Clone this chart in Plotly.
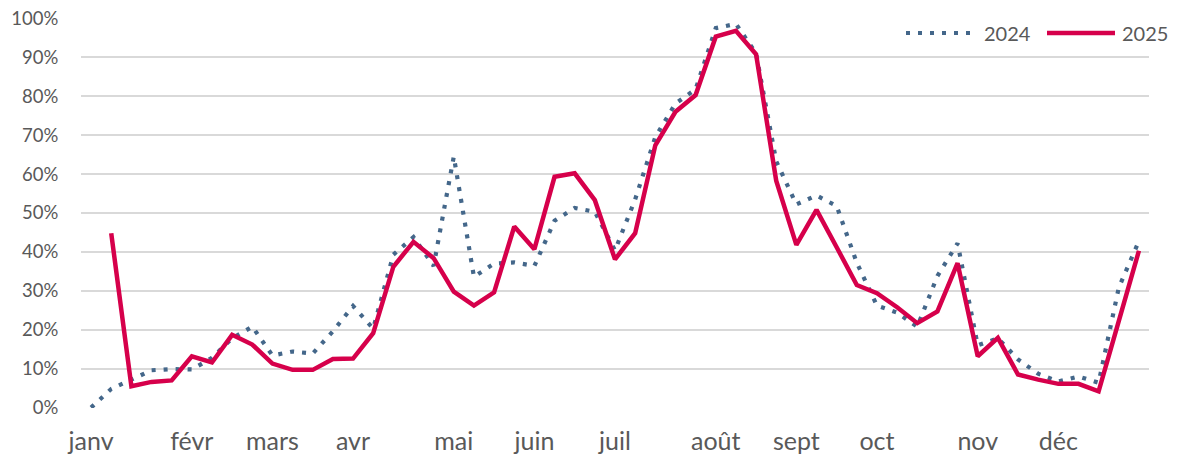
import plotly.graph_objects as go

# ---- data ----
weeks = list(range(53))
month_labels = ["janv", "févr", "mars", "avr", "mai", "juin", "juil", "août", "sept", "oct", "nov", "déc"]
month_weeks = [0, 5, 9, 13, 18, 22, 26, 31, 35, 39, 44, 48]

y2024 = [0.0, 4.8, 7.2, 9.6, 9.9, 9.8, 12.8, 17.8, 20.8, 13.4,
         14.4, 13.9, 19.6, 26.1, 20.3, 39.3, 43.8, 36.4, 64.5, 33.6,
         37.0, 37.3, 36.4, 48.0, 51.3, 50.3, 40.4, 53.5, 69.5, 78.1,
         81.8, 97.5, 98.6, 91.0, 63.3, 52.2, 54.5, 51.8, 37.2, 26.2,
         24.4, 20.8, 33.8, 42.2, 16.0, 17.8, 12.4, 8.7, 6.7, 8.0,
         6.4, 30.8, 42.8]

y2025 = [None, 44.8, 5.5, 6.6, 7.0, 13.2, 11.6, 18.7, 16.2, 11.3,
         9.7, 9.7, 12.5, 12.6, 19.1, 36.2, 42.6, 38.4, 29.8, 26.2,
         29.6, 46.5, 40.7, 59.3, 60.2, 53.3, 38.1, 44.8, 67.4, 76.0,
         80.3, 95.3, 96.8, 90.8, 58.3, 41.8, 50.8, 41.2, 31.5, 29.4,
         25.8, 21.7, 24.7, 37.1, 13.2, 17.9, 8.5, 7.2, 6.1, 6.1,
         4.2, 22.2, 40.3]

series_names = ["2024", "2025"]

# ---- style ----
BLUE = "#44678A"
RED = "#D6004B"
TEXT = "#595959"
GRID = "#D9D9D9"
FONT = "Lato"

OFF = 8  # page body margin offset
W, H = 1178 - OFF, 456 - OFF
ML, MT = 81 - OFF, 18 - OFF
MR = W - (1149 - OFF)
MB = H - (408 - OFF)
PW, PH = W - ML - MR, H - MT - MB


def px_x(px):
    return (px - OFF - ML) / PW


def px_y(py):
    return (H - MB - (py - OFF)) / PH


fig = go.Figure()
fig.add_trace(go.Scatter(
    x=weeks, y=y2024, name=series_names[0], mode="lines",
    line=dict(color=BLUE, width=4.2, dash="4px,8px"),
    showlegend=False,
))
fig.add_trace(go.Scatter(
    x=weeks, y=y2025, name=series_names[1], mode="lines",
    line=dict(color=RED, width=4.5),
    connectgaps=False, showlegend=False,
))

# manual legend (to mimic the long legend samples)
ly = 33
dx = -6
fig.add_shape(type="line", xref="paper", yref="paper",
              x0=px_x(912 + dx), x1=px_x(980 + dx), y0=px_y(ly), y1=px_y(ly),
              line=dict(color=BLUE, width=4.2, dash="4px,8px"))
fig.add_annotation(xref="paper", yref="paper", x=px_x(988 + dx), y=px_y(ly),
                   text=series_names[0], showarrow=False, xanchor="left", yanchor="middle",
                   font=dict(family=FONT, size=20, color=TEXT))
fig.add_shape(type="line", xref="paper", yref="paper",
              x0=px_x(1053 + dx), x1=px_x(1121 + dx), y0=px_y(ly), y1=px_y(ly),
              line=dict(color=RED, width=4.5))
fig.add_annotation(xref="paper", yref="paper", x=px_x(1126 + dx), y=px_y(ly),
                   text=series_names[1], showarrow=False, xanchor="left", yanchor="middle",
                   font=dict(family=FONT, size=20, color=TEXT))

fig.update_layout(
    width=W, height=H,
    margin=dict(l=ML, r=MR, t=MT, b=MB, pad=0, autoexpand=False),
    paper_bgcolor="white", plot_bgcolor="white",
    showlegend=False,
    font=dict(family=FONT, color=TEXT),
)
fig.update_xaxes(
    range=[-0.5, 52.5], tickmode="array", tickvals=month_weeks, ticktext=month_labels,
    showgrid=False, zeroline=False, showline=False, automargin=False,
    ticks="outside", ticklen=11, tickcolor="rgba(0,0,0,0)",
    ticklabeloverflow="allow",
    tickfont=dict(family=FONT, size=25, color=TEXT),
)
fig.update_yaxes(
    range=[-0.1, 100.1], dtick=10, tick0=0, ticksuffix="%",
    showgrid=True, gridcolor=GRID, gridwidth=1.5,
    zeroline=False, showline=False, automargin=False,
    ticks="outside", ticklen=18, tickcolor="rgba(0,0,0,0)",
    ticklabeloverflow="allow",
    tickfont=dict(family=FONT, size=18.5, color=TEXT),
)

fig.write_html("out.html")
